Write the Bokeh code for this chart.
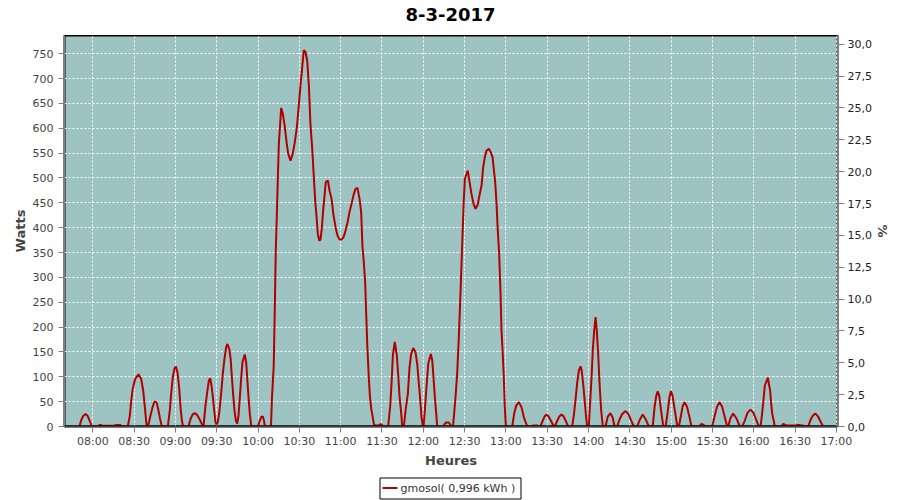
import datetime
from bokeh.plotting import figure
from bokeh.layouts import column
from bokeh.models import (Range1d, LinearAxis, FixedTicker, CustomJSTickFormatter,
                          ColumnDataSource, Span)
from bokeh.core.properties import value
from bokeh.embed import file_html
from bokeh.resources import INLINE

# ---- data ----
title_text = "8-3-2017"
day = datetime.datetime(2017, 3, 8, 8, 0)  # 08:00 reference time
# minutes after 08:00
t_min = [
    -9.7, -8.5, -7, -5.3, -3.7, -2, -0.7,
    4.2, 4.8, 6, 6.5, 16, 16.5, 20, 20.5,
    25.4, 26.9, 27.9, 29, 30.8, 33.2, 35.1, 36.6, 37.8, 38.8, 39.3,
    40.5, 41.9, 43.4, 44.8, 46.3, 47.7, 48.9, 50.1,
    54.5, 55.9, 56.9, 58.1, 59.3, 60.3, 61.5, 62.7, 63.7, 64.7, 65.5,
    69.5, 71, 72.4, 73.9, 75.5, 77.5, 79, 80.4,
    81.8, 83.1, 84.3, 85.3, 86.2, 87.2, 88.2, 89.1, 89.8, 90.8,
    92, 93.2, 94.4, 95.6, 96.9, 97.8, 99.1, 100.1, 101, 102, 102.9, 103.9, 104.9,
    105.8, 106.8, 107.8, 108.7, 109.7, 110.4, 111.4, 112.1, 113.1, 114, 115, 115.6,
    120, 121, 122.3, 123.5, 124.3, 125,
    129.4, 130.1, 131.4, 132.2, 132.9, 133.6, 134.3, 135.1, 135.8, 136.8, 138, 139.4,
    140.7, 141.9, 143.6, 145.2, 146.7, 148.2, 149.6, 150.8, 152.1, 153.2, 154.5, 155.7,
    156.9, 158.1, 159.3, 160.5, 161.5, 162.5, 163.4, 164.4, 165.3, 166.3, 167.3, 168.3,
    169.2, 170.7, 171.9, 173.4, 174.8, 176.3, 177.7, 179.2, 180.6, 182.1, 183.5, 185,
    186.4, 187.9, 189.3, 190.8, 192.2, 193.7, 194.9, 195.8, 196.8, 197.8, 198.6, 199.3,
    200.3, 201.2, 202.2, 203.1, 204.1, 205, 207.5, 209, 210.5, 211.5,
    214.5, 216, 217, 217.9, 219.3, 220.8, 221.8, 222.7, 223.9, 224.7,
    225.9, 227.1, 228.8, 230, 231.2, 232.7, 234.3, 235.6, 236.8, 238, 238.7, 239.7,
    240.2, 241.1, 242.3, 243.6, 244.5, 245.5, 246.5, 247.4, 248.4, 249.4, 250.1,
    254.5, 255.5, 256.5, 258.5, 259.5, 260.5, 261.5,
    262.2, 263.4, 264.6, 265.8, 267, 268, 268.7, 269.4, 270.2, 271.4, 272.3, 273.6,
    275, 276.5, 277.9, 279.4, 280.8, 282.3, 283.5, 284.7, 285.9, 287.6, 289, 290.3,
    291.2, 292.2, 293.2, 294.1, 295.1, 296.1, 296.8, 297.7, 298.5, 299.2, 300,
    304.6, 306, 307.5, 309.4, 311.3, 313, 315.5,
    319, 319.5, 323, 323.5,
    325, 326.5, 328, 329.4, 331, 333, 334.8,
    335.5, 337, 338.8, 340.4, 342, 343.7, 345.2,
    348.1, 349.3, 350.5, 351.8, 353, 354.2, 355, 356.1, 357.3, 358.2, 359,
    360.2, 361.2, 362.2, 363.1, 364.1, 365.1, 366, 367, 368, 369.2, 370.4,
    372.3, 374, 375.9, 377.5, 378.9,
    380.8, 382.5, 384.5, 386.8, 389, 391, 392.9,
    395.3, 397.3, 399.4, 401.6, 403.8,
    406.6, 408, 409.2, 410.2, 411.3, 412.8, 414.3,
    416, 417.5, 418.8, 419.8, 421, 422.8, 424.5,
    425.6, 427, 428.3, 429.7, 431.5, 433.2, 434.8,
    440.5, 441.5, 442.5, 443.8, 444.5,
    449.8, 451.5, 453.3, 455.1, 457, 459, 460.7,
    461.4, 463, 465, 467.5, 469.9,
    471.6, 473.5, 475.5, 477.6, 479.7, 481.7, 483.7,
    484.9, 485.9, 486.8, 488, 490.2, 491.9, 492.5, 493.4, 495.3,
    500.3, 501, 501.8, 502.8, 503.5, 511, 511.7, 513.3, 514, 516, 516.5,
    519.5, 521.3, 523, 524.8, 526.7, 528.5, 530.4,
]
watts = [
    0, 12, 21, 25, 21, 10, 0,
    0, 3, 3, 1.5, 1.5, 3, 3, 0,
    0, 22, 52, 76, 96, 105, 96, 72, 39, 9, 0,
    5, 22, 39, 50, 49, 32, 15, 0,
    0, 32, 66, 99, 116, 121, 109, 79, 39, 12, 0,
    0, 15, 24, 27, 24, 15, 6, 0,
    42, 69, 93, 97, 82, 59, 32, 9, 4, 9,
    32, 66, 106, 136, 160, 166, 156, 136, 99, 62, 32, 12, 6,
    22, 59, 99, 129, 139, 145, 129, 99, 59, 26, 3, 0,
    0, 10, 19, 20, 12, 0,
    0, 57, 123, 243, 357, 421, 492, 569, 597, 641, 629, 604,
    572, 549, 535, 549, 572, 602, 646, 686, 723, 757, 753, 736,
    686, 606, 562, 502, 455, 421, 388, 374, 376, 398, 435, 465,
    492, 495, 475, 458, 425, 401, 384, 376, 376, 381, 394, 411,
    431, 448, 465, 478, 480, 458, 431, 364, 331, 290, 223, 166,
    106, 62, 36, 22, 5, 2, 2, 5, 2, 0,
    0, 42, 89, 143, 170, 143, 103, 62, 29, 0,
    0, 32, 66, 119, 146, 158, 150, 126, 86, 46, 19, 0,
    0, 32, 79, 126, 136, 146, 133, 99, 59, 26, 0,
    0, 5, 8, 8, 4, 0, 0,
    19, 59, 106, 180, 267, 347, 401, 455, 498, 508, 515, 492,
    468, 448, 438, 445, 465, 485, 522, 542, 555, 559, 552, 542,
    518, 492, 448, 394, 347, 267, 193, 146, 99, 39, 0,
    0, 26, 42, 49, 39, 19, 0,
    0, 2, 2, 0,
    0, 10, 20, 24, 20, 10, 0,
    0, 10, 20, 24, 20, 10, 0,
    0, 22, 52, 89, 113, 121, 113, 86, 49, 20, 0,
    0, 50, 99, 153, 193, 220, 193, 146, 86, 32, 0,
    0, 20, 27, 18, 0,
    0, 14, 25, 31, 25, 12, 0,
    0, 14, 24, 14, 0,
    0, 40, 62, 71, 62, 30, 0,
    0, 30, 60, 71, 62, 30, 0,
    0, 20, 40, 49, 40, 20, 0,
    0, 4, 5, 3, 0,
    0, 20, 40, 49, 40, 18, 0,
    0, 16, 26, 16, 0,
    0, 12, 28, 34, 28, 14, 0,
    0, 22, 46, 82, 98, 72, 50, 26, 0,
    0, 4, 5, 3, 2, 2, 3, 3, 2, 2, 0,
    0, 14, 22, 26, 20, 10, 0,
]
series_label = "gmosol( 0,996 kWh )"
left_ticks = [0, 50, 100, 150, 200, 250, 300, 350, 400, 450, 500, 550, 600, 650, 700, 750]
right_ticks = [0, 2.5, 5, 7.5, 10, 12.5, 15, 17.5, 20, 22.5, 25, 27.5, 30]
x_tick_minutes = [0, 30, 60, 90, 120, 150, 180, 210, 240, 270, 300, 330, 360,
                  390, 420, 450, 480, 510, 540]

# ---- build ----
epoch = datetime.datetime(1970, 1, 1)
def to_ms(dt):
    return (dt - epoch).total_seconds() * 1000.0

xs = [day + datetime.timedelta(minutes=m) for m in t_min]
src = ColumnDataSource(dict(x=xs, y=watts))

FONT = "DejaVu Sans"
BG = "#9EC3C3"
LINE = "#B00000"
W = 900
FRAME_L, FRAME_R = 64, 837  # column layouts align the frames of the stacked figures

def blank(h):
    f = figure(width=W, height=h, output_backend="svg", toolbar_location=None,
               x_range=Range1d(FRAME_L, FRAME_R), y_range=Range1d(h, 0),
               min_border=0, x_axis_location=None, y_axis_location=None)
    f.xgrid.visible = False
    f.ygrid.visible = False
    f.outline_line_color = None
    f.background_fill_color = "white"
    return f

# title strip
pt = blank(35)
pt.text(x=[W / 2], y=[14], text=[title_text], text_align="center",
        text_baseline="middle", text_font=value(FONT), text_font_size="18px",
        text_font_style="bold", text_color="#000000")

# main chart
p = figure(width=W, height=435, output_backend="svg", toolbar_location=None,
           x_axis_type="datetime",
           x_range=Range1d(day + datetime.timedelta(minutes=-20.55),
                           day + datetime.timedelta(minutes=540.8)),
           y_range=Range1d(0, 786.7),
           min_border_left=FRAME_L, min_border_right=W - FRAME_R, min_border_top=0,
           min_border_bottom=44)

p.background_fill_color = BG
p.border_fill_color = "white"
p.outline_line_color = "black"
p.outline_line_width = 2

r = p.line("x", "y", source=src, line_color=LINE, line_width=2)

xt = FixedTicker(ticks=[to_ms(day + datetime.timedelta(minutes=m)) for m in x_tick_minutes])
p.xaxis.ticker = xt
p.xgrid.ticker = xt
p.xaxis.formatter = CustomJSTickFormatter(code="""
const d = new Date(tick); const h = d.getUTCHours(); const m = d.getUTCMinutes();
return (h < 10 ? '0' : '') + h + ':' + (m < 10 ? '0' : '') + m;
""")
yt = FixedTicker(ticks=left_ticks)
p.yaxis.ticker = yt
p.ygrid.ticker = yt

for ax in (p.xaxis[0], p.yaxis[0]):
    ax.axis_line_color = "#808080"
    ax.major_tick_line_color = "#808080"
    ax.major_tick_in = 0
    ax.major_tick_out = 6
    ax.minor_tick_line_color = None
    ax.major_label_text_font = FONT
    ax.major_label_text_font_size = "11px"
    ax.major_label_text_color = "#444444"
    ax.axis_label_text_font = FONT
    ax.axis_label_text_font_size = "13px"
    ax.axis_label_text_font_style = "bold"
    ax.axis_label_text_color = "#444444"

p.xaxis.axis_label = "Heures"
p.xaxis.major_label_standoff = 2
p.xaxis.axis_label_standoff = 2
p.yaxis.axis_label = "Watts"
p.yaxis.major_label_standoff = 5
p.yaxis.axis_label_standoff = 2

p.extra_y_ranges = {"pct": Range1d(0, 30.69)}
rax = LinearAxis(y_range_name="pct", ticker=FixedTicker(ticks=right_ticks),
                 formatter=CustomJSTickFormatter(code="return tick.toFixed(1).replace('.', ',');"))
rax.axis_label = "%"
rax.axis_line_color = "#808080"
rax.major_tick_line_color = "#808080"
rax.major_tick_in = 0
rax.major_tick_out = 7
rax.minor_tick_line_color = None
rax.major_label_standoff = 3
rax.major_label_text_font = FONT
rax.major_label_text_font_size = "11px"
rax.major_label_text_color = "#222222"
rax.axis_label_text_font = FONT
rax.axis_label_text_font_size = "13px"
rax.axis_label_text_font_style = "bold"
rax.axis_label_text_color = "#444444"
rax.axis_label_standoff = 0
p.add_layout(rax, "right")

for g in (p.xgrid[0], p.ygrid[0]):
    g.grid_line_color = "white"
    g.grid_line_width = 1
    g.grid_line_dash = "2 2"
    g.grid_line_alpha = 1.0

p.add_layout(Span(location=0, dimension="width", line_color="black", line_width=2))

# legend strip (page y 470..500)
pl = blank(30)
pl.quad(left=[379.5], right=[520.5], top=[7.5], bottom=[28.5], fill_color="white",
        line_color="black", line_width=1)
pl.line(x=[382, 397], y=[17.5, 17.5], line_color=LINE, line_width=2)
pl.text(x=[400], y=[17.5], text=[series_label], text_align="left",
        text_baseline="middle", text_font=value(FONT), text_font_size="11px",
        text_color="#333333")

layout = column(pt, p, pl, spacing=0)
open("out.html", "w").write(file_html(layout, INLINE))
